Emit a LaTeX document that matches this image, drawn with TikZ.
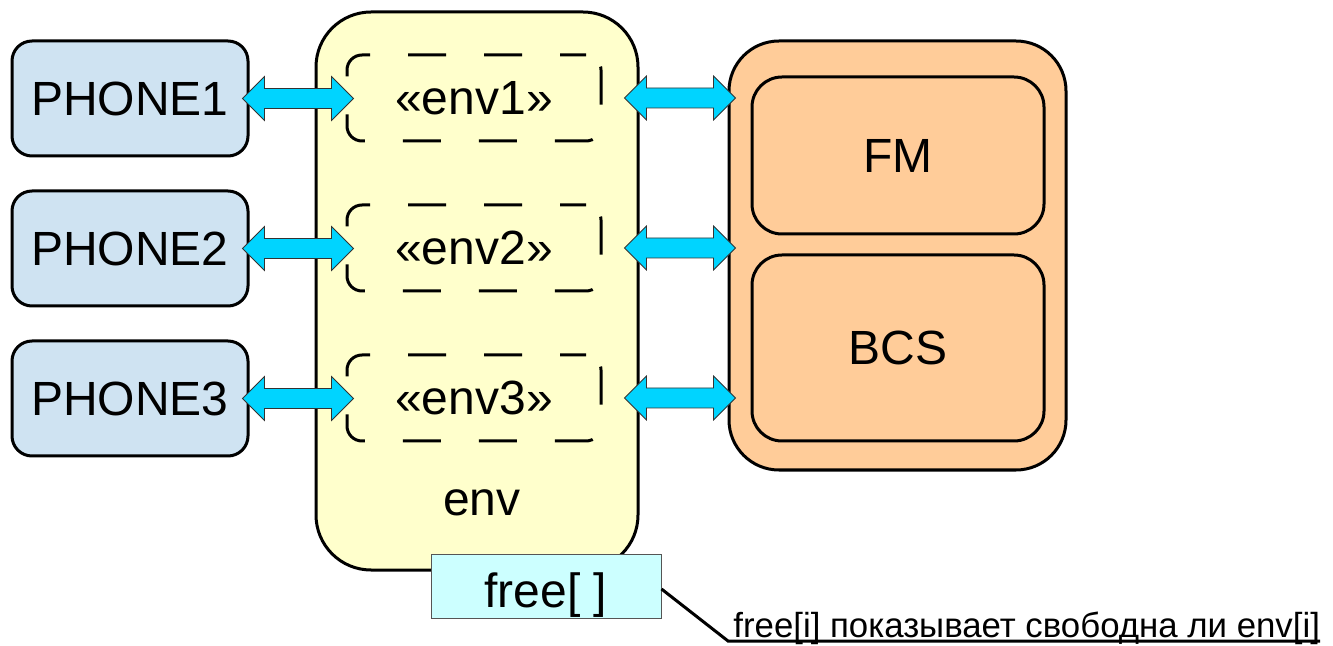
\documentclass[tikz,border=0pt]{standalone}
\usepackage{fontspec}
\setmainfont{Liberation Sans}
\usetikzlibrary{calc}

\definecolor{phonefill}{HTML}{CFE3F2}
\definecolor{envfill}{HTML}{FFFFCC}
\definecolor{sysfill}{HTML}{FFCC99}
\definecolor{linkfill}{HTML}{00D4FF}
\definecolor{freefill}{HTML}{CCFFFF}
\definecolor{freeline}{HTML}{555555}

\tikzset{
  bigtext/.style={font=\fontsize{24}{28}\selectfont},
  phonebox/.style={draw, line width=1.5pt, rounded corners=10pt, fill=phonefill,
    minimum width=118pt, minimum height=57.5pt, inner sep=0pt, bigtext},
  envbox/.style={draw, line width=1.5pt, rounded corners=27.5pt, fill=envfill,
    minimum width=161pt, minimum height=279pt, inner sep=0pt},
  slotbox/.style={draw, line width=1.5pt, rounded corners=7.5pt,
    dash pattern=on 19pt off 19pt, dash phase=6pt,
    minimum width=127pt, minimum height=43pt, inner sep=0pt, bigtext},
  sysbox/.style={draw, line width=1.5pt, rounded corners=25pt, fill=sysfill,
    minimum width=168.5pt, minimum height=214.5pt, inner sep=0pt},
  partbox/.style={draw, line width=1.5pt, rounded corners=15pt, fill=sysfill,
    minimum width=146pt, inner sep=0pt, bigtext},
  freebox/.style={draw=freeline, line width=0.5pt, fill=freefill,
    minimum width=115pt, minimum height=32pt, inner sep=0pt, bigtext,
    text height=21.4pt, text depth=0pt},
  fatarrow/.style={draw=black!80, line width=0.4pt, fill=linkfill},
}

% horizontal double-headed block arrow between two tip points
\newcommand\fatlink[2]{%
  \draw[fatarrow] let \p1=#1, \p2=#2 in
    (\x1,\y1) -- (\x1+11pt,\y1+11pt) -- (\x1+11pt,\y1+5pt)
    -- (\x2-11pt,\y1+5pt) -- (\x2-11pt,\y1+11pt) -- (\x2,\y1)
    -- (\x2-11pt,\y1-11pt) -- (\x2-11pt,\y1-5pt)
    -- (\x1+11pt,\y1-5pt) -- (\x1+11pt,\y1-11pt) -- cycle;%
}

\begin{document}
\begin{tikzpicture}[x=0.5pt, y=-0.5pt]
  \useasboundingbox (0,0) rectangle (1333,646);

  % phones
  \node[phonebox] (ph1) at (130,98.5) {PHONE1};
  \node[phonebox] (ph2) at (130,248.5) {PHONE2};
  \node[phonebox] (ph3) at (130,398.5) {PHONE3};

  % environment with its slots
  \node[envbox] (env) at (477,291) {};
  \node[slotbox] (e1) at (474,98) {«env1»};
  \node[slotbox] (e2) at (474,248) {«env2»};
  \node[slotbox] (e3) at (474,398) {«env3»};
  \node[bigtext] (envtxt) at (482,503) {env};

  % FM / BCS block
  \node[sysbox] (sys) at (897.5,255.5) {};
  \node[partbox, minimum height=78.5pt] (fm) at (898,155.5) {FM};
  \node[partbox, minimum height=93pt] (bcs) at (898,348) {BCS};

  % links
  \fatlink{($(ph1.east)+(-7,0)$)}{($(e1.west)+(8,0)$)}
  \fatlink{($(ph2.east)+(-7,0)$)}{($(e2.west)+(8,0)$)}
  \fatlink{($(ph3.east)+(-7,0)$)}{($(e3.west)+(8,0)$)}
  \fatlink{($(env.east |- e1)+(-15,0)$)}{($(sys.west |- e1)+(8,0)$)}
  \fatlink{($(env.east |- e2)+(-15,0)$)}{($(sys.west |- e2)+(8,0)$)}
  \fatlink{($(env.east |- e3)+(-15,0)$)}{($(sys.west |- e3)+(8,0)$)}

  % free[] array and its note
  \node[freebox] (fr) at (546,586) {free[ ]};
  \coordinate (bend) at (728,641);
  \coordinate (lineend) at (1320,641);
  \draw[line width=1.5pt] ($(fr.east)+(0,3)$) -- (bend) -- (lineend);
  \node[anchor=base west, inner sep=0pt, font=\fontsize{17.4}{20}\selectfont] (note)
    at (733,637.5) {free[i] показывает свободна ли env[i]};
\end{tikzpicture}
\end{document}
